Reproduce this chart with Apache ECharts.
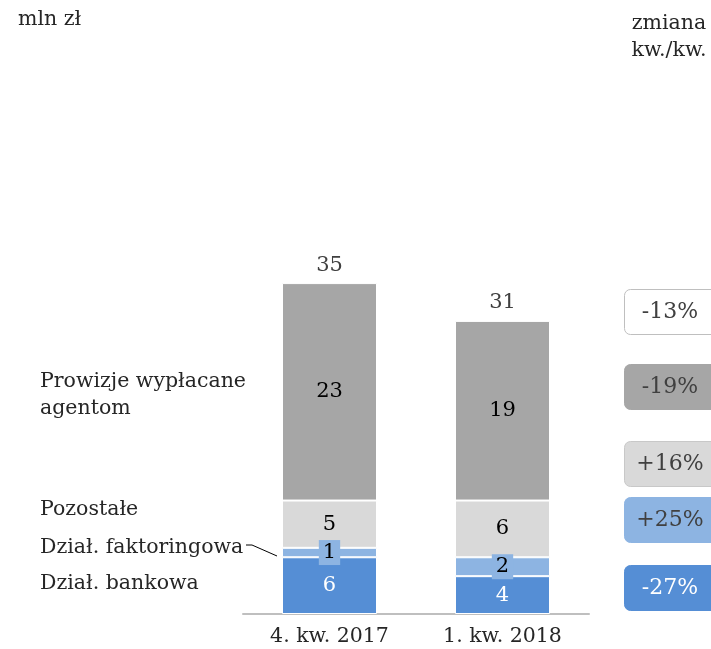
<!DOCTYPE html>
<html>
<head>
<meta charset="utf-8">
<script src="https://cdn.jsdelivr.net/npm/echarts@6/dist/echarts.min.js"></script>
<style>
  html, body { margin: 0; padding: 0; background: #fff; }
  #chart { width: 711px; height: 649px; }
</style>
</head>
<body>
<div id="chart"></div>
<script>
// dane
var kategorie = ['4. kw. 2017', '1. kw. 2018'];
var bankowa = [6, 4];
var faktoringowa = [1, 2];
var pozostale = [5, 6];
var prowizje = [23, 19];
var zmiany = ['-13%', '-19%', '+16%', '+25%', '-27%'];
var nazwy = ['Dział. bankowa', 'Dział. faktoringowa', 'Pozostałe', 'Prowizje wypłacane\nagentom'];

var sumy = [];
for (var i = 0; i < kategorie.length; i++) {
	sumy.push(bankowa[i] + faktoringowa[i] + pozostale[i] + prowizje[i]);
}

var FONT = 'DejaVu Serif';
var FS = 20.5;
var chart = echarts.init(document.getElementById('chart'));

function warstwa(name, data, color, labelColor, labelBg) {
	var lab = {
		show: true,
		position: 'inside',
		color: labelColor,
		fontFamily: FONT,
		fontSize: 21
	};
	if (labelBg) {
		lab.backgroundColor = labelBg;
		lab.padding = [2, 4];
	}
	return {
		name: name,
		type: 'bar',
		stack: 'a',
		barWidth: 95,
		data: data,
		itemStyle: { color: color, borderColor: '#fff', borderWidth: 1 },
		label: lab
	};
}

// pola zmiany kw./kw.
var pola = [
	{ y: 289, fill: '#fff', stroke: '#BFBFBF', txt: '#404040' },
	{ y: 364, fill: '#A6A6A6', stroke: '#A6A6A6', txt: '#404040' },
	{ y: 441, fill: '#D9D9D9', stroke: '#C8C8C8', txt: '#404040' },
	{ y: 497, fill: '#8DB4E2', stroke: '#8DB4E2', txt: '#404040' },
	{ y: 565, fill: '#558ED5', stroke: '#558ED5', txt: '#fff' }
];
var graf = [];
for (var j = 0; j < pola.length; j++) {
	graf.push({
		type: 'rect',
		shape: { x: 624.5, y: pola[j].y + 0.5, width: 100, height: 45, r: 6 },
		style: { fill: pola[j].fill, stroke: pola[j].stroke, lineWidth: 1 }
	});
	graf.push({
		type: 'text',
		x: 670, y: pola[j].y + 23,
		style: { text: zmiany[j], fill: pola[j].txt, font: '22px "' + FONT + '"', align: 'center', verticalAlign: 'middle' }
	});
}
// opisy po lewej
var opisyY = [584, 547.5, 510, 395];
for (var k = 0; k < nazwy.length; k++) {
	graf.push({
		type: 'text',
		x: 40, y: opisyY[k],
		style: { text: nazwy[k], fill: '#262626', font: FS + 'px "' + FONT + '"', align: 'left', verticalAlign: 'middle', lineHeight: 27 }
	});
}
graf.push({
	type: 'polyline',
	shape: { points: [[246, 545], [252, 545], [277, 556]] },
	style: { stroke: '#000', lineWidth: 1, fill: null }
});
graf.push({
	type: 'text', x: 18, y: 20,
	style: { text: 'mln zł', fill: '#262626', font: FS + 'px "' + FONT + '"', verticalAlign: 'middle' }
});
graf.push({
	type: 'text', x: 669, y: 37,
	style: { text: 'zmiana\nkw./kw.', fill: '#262626', font: FS + 'px "' + FONT + '"', align: 'center', verticalAlign: 'middle', lineHeight: 27 }
});

chart.setOption({
	animation: false,
	grid: { left: 243, right: 122, top: 94, bottom: 35 },
	xAxis: {
		type: 'category',
		data: kategorie,
		axisLine: { lineStyle: { color: '#BFBFBF', width: 2 } },
		axisTick: { show: false },
		axisLabel: { color: '#262626', fontFamily: FONT, fontSize: FS, margin: 12 }
	},
	yAxis: {
		type: 'value',
		min: 0,
		max: 55,
		show: false,
		splitLine: { show: false }
	},
	series: [
		warstwa('Dział. bankowa', bankowa, '#558ED5', '#fff'),
		warstwa('Dział. faktoringowa', faktoringowa, '#8DB4E2', '#000', '#8DB4E2'),
		warstwa('Pozostałe', pozostale, '#D9D9D9', '#000'),
		warstwa('Prowizje wypłacane agentom', prowizje, '#A6A6A6', '#000'),
		{
			name: 'suma',
			type: 'line',
			data: sumy,
			symbol: 'circle',
			symbolSize: 1,
			itemStyle: { color: 'rgba(0,0,0,0)' },
			lineStyle: { opacity: 0 },
			label: { show: true, position: 'top', distance: 7, color: '#404040', fontFamily: FONT, fontSize: 21 }
		}
	],
	graphic: graf
});
</script>
</body>
</html>
